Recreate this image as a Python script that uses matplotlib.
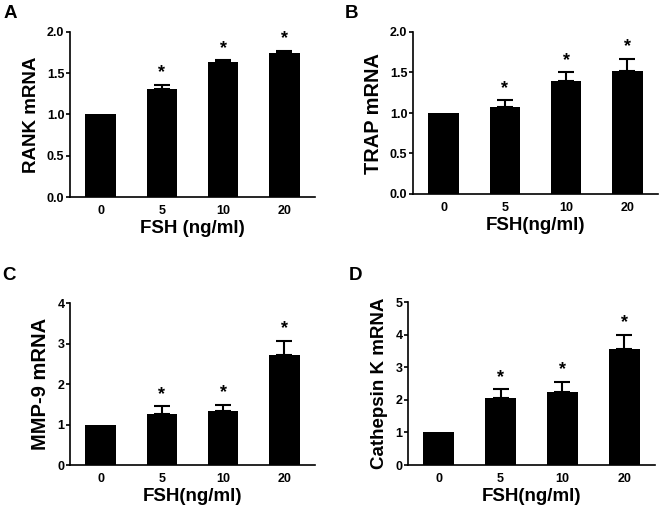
import matplotlib
matplotlib.use("Agg")
import matplotlib.pyplot as plt
import numpy as np

plt.rcParams['font.family'] = ['Liberation Sans', 'DejaVu Sans']
plt.rcParams['font.weight'] = 'bold'

categories = ["0", "5", "10", "20"]

rank_mean = [1.0, 1.31, 1.64, 1.75]
rank_err = [0.0, 0.05, 0.02, 0.025]

trap_mean = [1.0, 1.08, 1.39, 1.52]
trap_err = [0.0, 0.08, 0.11, 0.15]

mmp9_mean = [1.0, 1.27, 1.33, 2.71]
mmp9_err = [0.0, 0.18, 0.16, 0.36]

ctsk_mean = [1.0, 2.05, 2.25, 3.56]
ctsk_err = [0.0, 0.27, 0.31, 0.44]

sig = [False, True, True, True]

panels = [
    dict(letter="A", mean=rank_mean, err=rank_err, ylabel="RANK mRNA", xlabel="FSH (ng/ml)",
         ylim=2.0, yticks=[0.0, 0.5, 1.0, 1.5, 2.0], fmt="{:.1f}",
         box=(70, 315, 32, 197), ylfs=13.5, letter_xy=(10, 13)),
    dict(letter="B", mean=trap_mean, err=trap_err, ylabel="TRAP mRNA", xlabel="FSH(ng/ml)",
         ylim=2.0, yticks=[0.0, 0.5, 1.0, 1.5, 2.0], fmt="{:.1f}",
         box=(413, 658, 32, 194), ylfs=14.4, letter_xy=(352, 13)),
    dict(letter="C", mean=mmp9_mean, err=mmp9_err, ylabel="MMP-9 mRNA", xlabel="FSH(ng/ml)",
         ylim=4, yticks=[0, 1, 2, 3, 4], fmt="{:d}",
         box=(70, 315, 303, 465), ylfs=14.5, letter_xy=(9, 276)),
    dict(letter="D", mean=ctsk_mean, err=ctsk_err, ylabel="Cathepsin K mRNA", xlabel="FSH(ng/ml)",
         ylim=5, yticks=[0, 1, 2, 3, 4, 5], fmt="{:d}",
         box=(408, 655, 302, 465), ylfs=13.5, letter_xy=(356, 276)),
]

W, H = 660, 511
fig = plt.figure(figsize=(W / 100, H / 100), dpi=100)

for p in panels:
    l, r, t, b = p["box"]
    ax = fig.add_axes([l / W, 1 - b / H, (r - l) / W, (b - t) / H])
    x = np.arange(len(categories))
    ax.bar(x, p["mean"], width=0.5, color="black", zorder=2)
    for xi, m, e, s in zip(x, p["mean"], p["err"], sig):
        if e > 0:
            ax.errorbar(xi, m, yerr=[[0], [e]], fmt="none", ecolor="black",
                        elinewidth=1.5, capsize=6, capthick=1.5, zorder=3)
        if s:
            ax.text(xi, m + e + p["ylim"] * 0.02, "*", ha="center", va="bottom",
                    fontsize=13, fontweight="bold")
    ax.set_xlim(-0.5, 3.5)
    ax.set_ylim(0, p["ylim"])
    ax.set_yticks(p["yticks"])
    ax.set_yticklabels([p["fmt"].format(v) for v in p["yticks"]], fontsize=9, fontweight="bold")
    ax.set_xticks(x)
    ax.set_xticklabels(categories, fontsize=9, fontweight="bold")
    ax.tick_params(axis="x", length=0, pad=6)
    ax.tick_params(axis="y", length=3, width=1.2, pad=1)
    for sp in ["top", "right"]:
        ax.spines[sp].set_visible(False)
    for sp in ["left", "bottom"]:
        ax.spines[sp].set_linewidth(1.2)
    ax.set_ylabel(p["ylabel"], fontsize=p["ylfs"], fontweight="bold", labelpad=5)
    ax.set_xlabel(p["xlabel"], fontsize=13.5, fontweight="bold", labelpad=2)
    lx, ly = p["letter_xy"]
    fig.text(lx / W, 1 - ly / H, p["letter"], fontsize=13.5, fontweight="bold",
             ha="center", va="center")

fig.savefig("out.png", dpi=100)
